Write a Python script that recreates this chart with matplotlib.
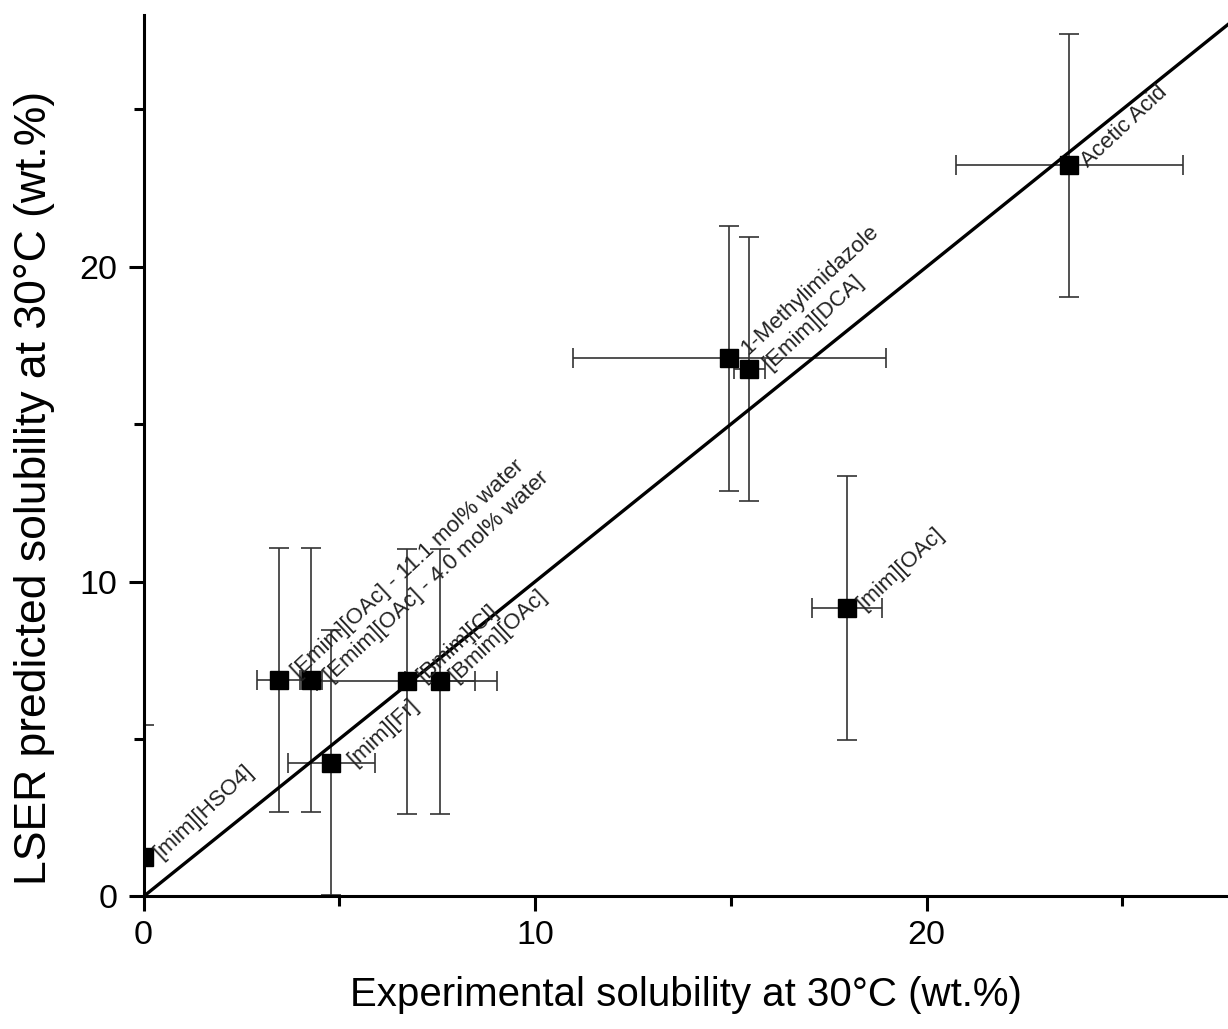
import numpy as np
import matplotlib
matplotlib.use("Agg")
import matplotlib.pyplot as plt

plt.rcParams['font.family'] = ['Liberation Sans', 'DejaVu Sans']

# data
names = ["[mim][HSO4]", "[Emim][OAc] - 11.1 mol% water", "[Emim][OAc] - 4.0 mol% water",
         "[mim][Fr]", "[Bmim][Cl]", "[Bmim][OAc]", "1-Methylimidazole", "[Emim][DCA]",
         "[mim][OAc]", "Acetic Acid"]
exp_x = [0.0, 3.47, 4.28, 4.8, 6.72, 7.57, 14.96, 15.47, 17.96, 23.65]
pred_y = [1.26, 6.87, 6.87, 4.25, 6.83, 6.83, 17.09, 16.76, 9.17, 23.22]
x_err = [0.0, 0.58, 0.28, 1.1, 2.3, 0.89, 4.0, 0.4, 0.89, 2.9]
y_err = [4.2, 4.19, 4.19, 4.2, 4.2, 4.2, 4.2, 4.2, 4.2, 4.18]
label_off = [(10, 1), (11, 4), (12, 1), (14, 0), (10, 2), (9, 2), (11, 5), (12, 2), (10, 1), (11, 1)]

fig = plt.figure(figsize=(12.28, 10.29), dpi=100)
ax = fig.add_axes([0.1169, 0.1288, 1.0 - 0.1169, 0.9854 - 0.1288])

ax.errorbar(exp_x, pred_y, xerr=x_err, yerr=y_err, fmt="none",
            ecolor="#333333", elinewidth=1.2, capsize=7, capthick=1.2, zorder=2)

# parity line
ax.plot([0, 30], [0, 30], color="black", lw=2.4, zorder=3)

ax.plot(exp_x, pred_y, ls="none", marker="s", ms=12.5, color="black", zorder=4)

for n, xx, yy, off in zip(names, exp_x, pred_y, label_off):
    ax.annotate(n, (xx, yy), xytext=off, textcoords="offset points",
                rotation=43, rotation_mode="anchor", ha="left", va="center",
                fontsize=16, color="#222222", zorder=5)

ax.set_xlim(0, 27.7)
ax.set_ylim(0, 28)
ax.set_xticks([0, 10, 20])
ax.set_yticks([0, 10, 20])
ax.set_xticks([5, 15, 25], minor=True)
ax.set_yticks([5, 15, 25], minor=True)

for s in ["top", "right"]:
    ax.spines[s].set_visible(False)
for s in ["left", "bottom"]:
    ax.spines[s].set_linewidth(2.2)

ax.tick_params(which="major", direction="out", length=11, width=2.2, labelsize=24.5)
ax.tick_params(axis="x", which="major", pad=6)
ax.tick_params(axis="y", which="major", pad=8)
ax.tick_params(which="minor", direction="out", length=7, width=2.2)

ax.set_xlabel("Experimental solubility at 30\u00b0C (wt.%)", fontsize=29, labelpad=18)
ax.set_ylabel("LSER predicted solubility at 30\u00b0C (wt.%)", fontsize=32)
ax.yaxis.set_label_coords(-0.082, 0.464)

fig.savefig("out.png", dpi=100)
